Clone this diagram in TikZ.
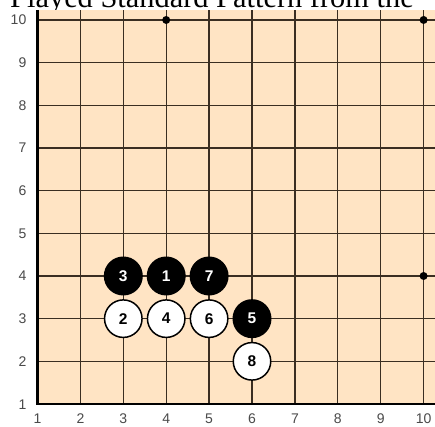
\documentclass[tikz,border=0pt]{standalone}
\usepackage{fontspec}
\setmainfont{Liberation Serif}
\newfontfamily\axisfont{Liberation Sans}
\definecolor{boardbg}{HTML}{FFE4C4}
\definecolor{gridc}{HTML}{3A2E22}
\definecolor{tickc}{HTML}{4A4A4A}
\tikzset{
  gridline/.style={gridc, line width=1.3pt},
  spine/.style={black, line width=2.4pt},
  ticklabel/.style={tickc, font=\axisfont\fontsize{14}{14}\selectfont, inner sep=0pt},
  starpt/.style={circle, fill=black, inner sep=0pt, minimum size=8pt},
  blackstone/.style={circle, fill=black, text=white, inner sep=0pt, minimum size=39pt,
     font=\axisfont\bfseries\fontsize{15.5}{15.5}\selectfont},
  whitestone/.style={circle, fill=white, draw=black, line width=1.5pt, text=black, inner sep=0pt, minimum size=37.5pt,
     font=\axisfont\bfseries\fontsize{15.5}{15.5}\selectfont},
  titletext/.style={font=\fontsize{30.4}{30.4}\selectfont, inner sep=0pt}
}
\begin{document}
\begin{tikzpicture}[x=1pt,y=1pt]
\useasboundingbox (0,0) rectangle (435,426);
\clip (0,0) rectangle (435,426);
\fill[white] (0,0) rectangle (435,426);
\node[titletext, anchor=base west] (title) at (10,418.7) {Played Standard Pattern from the};
\begin{scope}[xshift=-5.4pt, yshift=-20.67pt, x=42.9pt, y=42.67pt]
  \fill[boardbg] (1,1) rectangle (10.4,10.235);
  \foreach \i in {2,...,10} \draw[gridline] (\i,1) -- (\i,10.235);
  \foreach \j in {2,...,10} \draw[gridline] (1,\j) -- (10.4,\j);
  \draw[spine] (1,10.235) -- (1,1) -- (10.4,1);
  \foreach \i in {1,...,10} \node[ticklabel, anchor=base, yshift=-19.3pt] (xl\i) at (\i,1) {\i};
  \foreach \j in {1,...,10} \node[ticklabel, anchor=base east, xshift=-11pt, yshift=-5pt] (yl\j) at (1,\j) {\j};
  \node[starpt] (star1) at (4,10) {};
  \node[starpt] (star2) at (10,10) {};
  \node[starpt] (star3) at (10,4) {};
  \node[blackstone] (s1) at (4,4) {1};
  \node[whitestone] (s2) at (3,3) {2};
  \node[blackstone] (s3) at (3,4) {3};
  \node[whitestone] (s4) at (4,3) {4};
  \node[blackstone] (s5) at (6,3) {5};
  \node[whitestone] (s6) at (5,3) {6};
  \node[blackstone] (s7) at (5,4) {7};
  \node[whitestone] (s8) at (6,2) {8};
\end{scope}
\end{tikzpicture}
\end{document}
